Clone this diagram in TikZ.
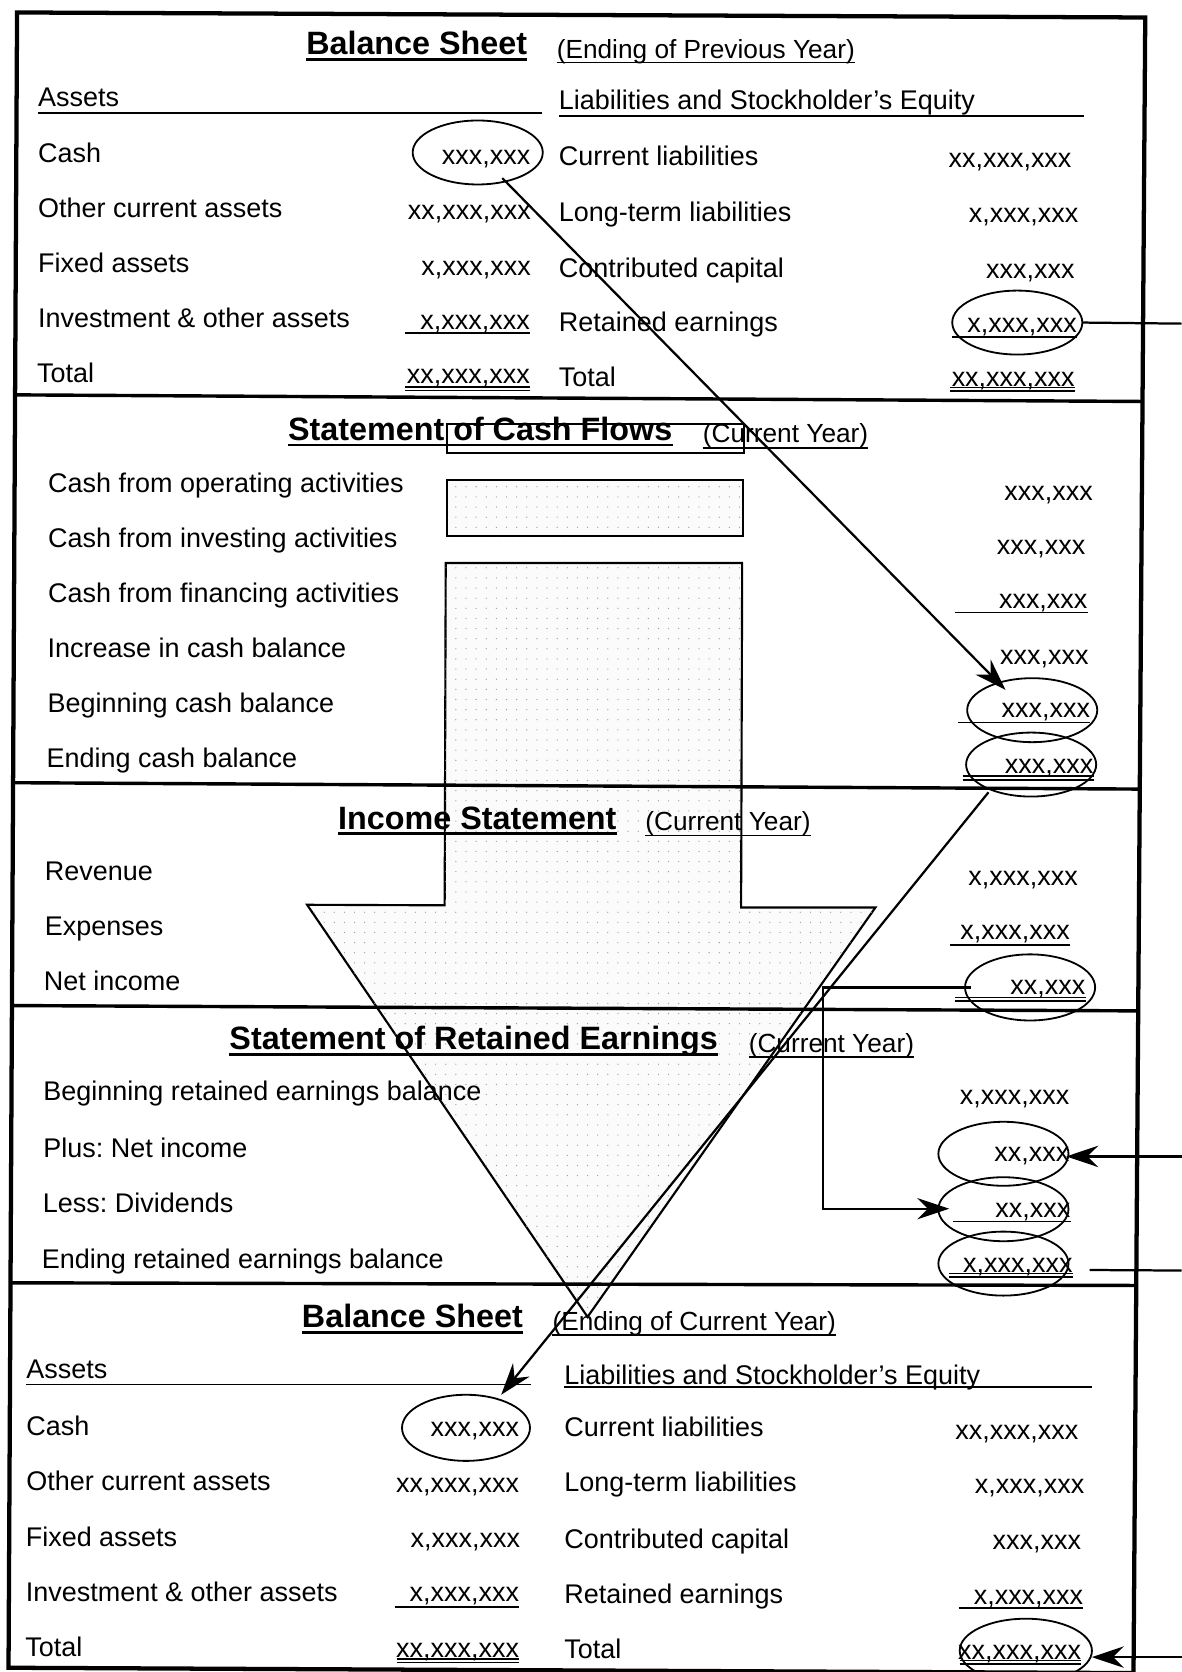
\documentclass[tikz,border=0pt]{standalone}
\usepackage{fontspec}
\setmainfont{Liberation Sans}
\usetikzlibrary{calc,arrows.meta,patterns.meta,shapes.geometric}
\frenchspacing

% underline under a text node: #2 node, #3 x where the rule starts, #4 drop below the baseline
\newcommand\ruleunder[4][uln]{\draw[#1] ($(#3,0 |- #2.base)+(0,#4)$) -- ($(#2.base east)+(0,#4)$);}
% rule from the start of a node to a given x
\newcommand\ruleto[4][uln]{\draw[#1] ($(#2.base west)+(0,#4)$) -- ($(#3,0 |- #2.base)+(0,#4)$);}

\begin{document}
\begin{tikzpicture}[x=1pt,y=-1pt,
  lbl/.style={anchor=base west,inner sep=0pt,font=\fontsize{25.3}{30}\selectfont},
  val/.style={anchor=base east,inner sep=0pt,font=\fontsize{25.3}{30}\selectfont},
  ttl/.style={anchor=base west,inner sep=0pt,font=\fontsize{30.3}{36}\selectfont\bfseries},
  when/.style={anchor=base west,inner sep=0pt,font=\fontsize{24.6}{30}\selectfont},
  ring/.style={ellipse,draw,line width=1.7pt,minimum width=122pt,minimum height=60pt,inner sep=0pt},
  uln/.style={line width=1.6pt},
  tuln/.style={line width=2.4pt},
  frame/.style={line width=4pt,line join=miter},
  divider/.style={line width=3.2pt},
  conn/.style={line width=2.1pt},
  tip/.style={-{Stealth[length=30pt,width=20pt,inset=10pt]}},
  flow/.style={line width=2pt,line join=miter,fill=black!1.5,
    postaction={pattern={Dots[distance=9.5pt,radius=0.6pt]},pattern color=black!40}},
]
\useasboundingbox (0,0) rectangle (1108,1568);
\fill[white] (0,0) rectangle (1108,1568);

% ---------- the big flow arrow behind everything ----------
\draw[line width=2pt] (419,398) rectangle (698,425);
\draw[flow] (419,450) rectangle (697,503);
\draw[flow] (418,528) -- (417,849) -- (288,848.5) -- (551,1235) -- (821,851)
  -- (695,851) -- (696,528) -- cycle;

% ---------- frame and section dividers ----------
\draw[frame] (16,11.7) -- (1074,16.4) -- (1063,1569) -- (8,1564) -- cycle;
\draw[divider] (14.2,370.3) -- (1071.5,376.5);
\draw[divider] (12.3,734) -- (1068.9,740);
\draw[divider] (11.2,943) -- (1067.4,948);
\draw[divider] (9.9,1203) -- (1065.6,1205.5);

% ---------- Balance Sheet, previous year ----------
\node[ttl] (bs1-title) at (287,51.5) {Balance Sheet};
\node[when] (bs1-when) at (522,54.5) {(Ending of Previous Year)};
\ruleunder[tuln]{bs1-title}{287}{4.5}
\ruleunder{bs1-when}{522}{4}
\node[lbl] (bs1-assets) at (35.5,100) {Assets};
\ruleto{bs1-assets}{508.6}{6}
\node[lbl] (bs1-liab) at (524,102.5) {Liabilities and Stockholder’s Equity};
\ruleto{bs1-liab}{1017}{6.2}

\node[lbl] (bs1-l1) at (35.5,152) {Cash};
\node[lbl] (bs1-l2) at (35.5,204) {Other current assets};
\node[lbl] (bs1-l3) at (35.5,256) {Fixed assets};
\node[lbl] (bs1-l4) at (35.5,307.5) {Investment \& other assets};
\node[lbl] (bs1-l5) at (34.5,359) {Total};
\node[val] (bs1-v1) at (497.5,154.5) {xxx,xxx};
\node[val] (bs1-v2) at (498,206) {xx,xxx,xxx};
\node[val] (bs1-v3) at (498,258) {x,xxx,xxx};
\node[val] (bs1-v4) at (497,309) {x,xxx,xxx};
\node[val] (bs1-v5) at (497,360) {xx,xxx,xxx};
\ruleunder{bs1-v4}{380}{3.5}
\ruleunder{bs1-v5}{380}{2.8}
\ruleunder{bs1-v5}{380}{6.3}

\node[lbl] (bs1-r1) at (524,155) {Current liabilities};
\node[lbl] (bs1-r2) at (524,208) {Long-term liabilities};
\node[lbl] (bs1-r3) at (524,260) {Contributed capital};
\node[lbl] (bs1-r4) at (524,311) {Retained earnings};
\node[lbl] (bs1-r5) at (524,362.5) {Total};
\node[val] (bs1-w1) at (1005,157) {xx,xxx,xxx};
\node[val] (bs1-w2) at (1011.5,209) {x,xxx,xxx};
\node[val] (bs1-w3) at (1008,261) {xxx,xxx};
\node[val] (bs1-w4) at (1010,311.5) {x,xxx,xxx};
\node[val] (bs1-w5) at (1008,362.5) {xx,xxx,xxx};
\ruleunder{bs1-w4}{893}{4.5}
\ruleunder{bs1-w5}{891}{0.8}
\ruleunder{bs1-w5}{891}{4.0}

\node[ring] (e-cash1) at (448,143) {};
\node[ring] (e-re1) at (954,302.5) {};

% ---------- Statement of Cash Flows ----------
\node[ttl] (cf-title) at (270,413) {Statement of Cash Flows};
\node[when] (cf-when) at (659,415) {(Current Year)};
\ruleunder[tuln]{cf-title}{270}{4.5}
\ruleunder{cf-when}{659}{5}
\node[lbl] (cf-l1) at (45,462) {Cash from operating activities};
\node[lbl] (cf-l2) at (45,513.5) {Cash from investing activities};
\node[lbl] (cf-l3) at (45,565) {Cash from financing activities};
\node[lbl] (cf-l4) at (44.5,616.5) {Increase in cash balance};
\node[lbl] (cf-l5) at (44.5,668) {Beginning cash balance};
\node[lbl] (cf-l6) at (43.5,719.5) {Ending cash balance};
\node[val] (cf-v1) at (1025,469) {xxx,xxx};
\node[val] (cf-v2) at (1018,520) {xxx,xxx};
\node[val] (cf-v3) at (1020,571) {xxx,xxx};
\node[val] (cf-v4) at (1021,623) {xxx,xxx};
\node[val] (cf-v5) at (1022.5,673) {xxx,xxx};
\node[val] (cf-v6) at (1025.5,725) {xxx,xxx};
\ruleunder{cf-v3}{896}{3.5}
\ruleunder{cf-v5}{898}{4.5}
\ruleunder{cf-v6}{903}{3}
\ruleunder{cf-v6}{903}{6.3}
\node[ring] (e-beg) at (968,666) {};
\node[ring] (e-end) at (967,717) {};

% ---------- Income Statement ----------
\node[ttl] (is-title) at (317,778) {Income Statement};
\node[when] (is-when) at (605,779) {(Current Year)};
\ruleunder[tuln]{is-title}{317}{3.5}
\ruleunder{is-when}{605}{4.5}
\node[lbl] (is-l1) at (42,825.6) {Revenue};
\node[lbl] (is-l2) at (42,877.5) {Expenses};
\node[lbl] (is-l3) at (41,928.5) {Net income};
\node[val] (is-v1) at (1011,830) {x,xxx,xxx};
\node[val] (is-v2) at (1003.5,881) {x,xxx,xxx};
\node[val] (is-v3) at (1018,933) {xx,xxx};
\ruleunder{is-v2}{891}{5}
\ruleunder{is-v3}{896}{2.4}
\ruleunder{is-v3}{896}{5.8}
\node[ring,minimum height=62pt] (e-ni) at (966,926) {};

% ---------- Statement of Retained Earnings ----------
\node[ttl] (re-title) at (215,984) {Statement of Retained Earnings};
\node[when] (re-when) at (702,987) {(Current Year)};
\ruleunder[tuln]{re-title}{215}{5}
\ruleunder{re-when}{702}{4.5}
\node[lbl] (re-l1) at (40.5,1032) {Beginning retained earnings balance};
\node[lbl] (re-l2) at (40.5,1085.5) {Plus: Net income};
\node[lbl] (re-l3) at (40,1137) {Less: Dividends};
\node[lbl] (re-l4) at (39,1190) {Ending retained earnings balance};
\node[val] (re-v1) at (1003,1036) {x,xxx,xxx};
\node[val] (re-v2) at (1003,1089) {xx,xxx};
\node[val] (re-v3) at (1004,1142) {xx,xxx};
\node[val] (re-v4) at (1006,1193) {x,xxx,xxx};
\ruleunder{re-v3}{894}{3.5}
\ruleunder{re-v4}{890}{1.2}
\ruleunder{re-v4}{890}{4.6}
\node[ring] (e-pni) at (941,1082) {};
\node[ring] (e-div) at (941,1134) {};
\node[ring] (e-ere) at (941,1185) {};

% ---------- Balance Sheet, current year ----------
\node[ttl] (bs2-title) at (283,1245) {Balance Sheet};
\node[when] (bs2-when) at (518,1248) {(Ending of Current Year)};
\ruleunder[tuln]{bs2-title}{283}{4.5}
\ruleunder{bs2-when}{518}{4}
\node[lbl] (bs2-assets) at (24.5,1293) {Assets};
\ruleto{bs2-assets}{498}{5.5}
\node[lbl] (bs2-liab) at (529,1298) {Liabilities and Stockholder’s Equity};
\ruleto{bs2-liab}{1024}{2.5}

\node[lbl] (bs2-l1) at (24.5,1346) {Cash};
\node[lbl] (bs2-l2) at (24.5,1398) {Other current assets};
\node[lbl] (bs2-l3) at (24,1450) {Fixed assets};
\node[lbl] (bs2-l4) at (24,1502) {Investment \& other assets};
\node[lbl] (bs2-l5) at (23.5,1553) {Total};
\node[val] (bs2-v1) at (487,1347) {xxx,xxx};
\node[val] (bs2-v2) at (487,1400) {xx,xxx,xxx};
\node[val] (bs2-v3) at (488,1451) {x,xxx,xxx};
\node[val] (bs2-v4) at (487,1502) {x,xxx,xxx};
\node[val] (bs2-v5) at (487,1554) {xx,xxx,xxx};
\ruleunder{bs2-v4}{370}{5}
\ruleunder{bs2-v5}{372}{1.5}
\ruleunder{bs2-v5}{372}{5}

\node[lbl] (bs2-r1) at (529,1347) {Current liabilities};
\node[lbl] (bs2-r2) at (529,1399) {Long-term liabilities};
\node[lbl] (bs2-r3) at (529,1452) {Contributed capital};
\node[lbl] (bs2-r4) at (529,1504) {Retained earnings};
\node[lbl] (bs2-r5) at (529,1555) {Total};
\node[val] (bs2-w1) at (1011.5,1350) {xx,xxx,xxx};
\node[val] (bs2-w2) at (1017,1401) {x,xxx,xxx};
\node[val] (bs2-w3) at (1014,1453) {xxx,xxx};
\node[val] (bs2-w4) at (1016,1505) {x,xxx,xxx};
\node[val] (bs2-w5) at (1014,1556) {xx,xxx,xxx};
\ruleunder{bs2-w4}{899}{3}
\ruleunder{bs2-w5}{900}{1.2}
\ruleunder{bs2-w5}{900}{4.5}

\node[ring,minimum width=120pt,minimum height=62pt] (e-cash2) at (437,1339) {};
\node[ring,minimum width=124pt] (e-tot2) at (962,1548) {};

% ---------- connectors ----------
\coordinate (re-out) at (1108,303.5);
\coordinate (ni-in) at (1108,1084.5);
\coordinate (ere-out) at (1108,1191.5);
\coordinate (tot-in) at (1108,1554);
\coordinate (ni-turn) at (771.5,926);

% cash at the start of the year feeds the beginning cash balance
\draw[conn,tip] ($(e-cash1.center)+(23,24)$) -- ($(e-beg.center)+(-25,-19)$);
% ending cash balance becomes the cash of the new balance sheet
\draw[conn,tip] ($(e-end.center)+(-40,26)$) -- ($(e-cash2.center)+(33,-31)$);
% net income carried into retained earnings
\draw[conn,tip] ($(e-ni.west)+(6,0)$) -- (ni-turn) |- ($(e-div.west)+(11,-0.5)$);
% links leaving and entering at the right
\draw[conn] (e-re1.east) -- (re-out);
\draw[conn,tip] (ni-in) -- ($(e-pni.east)+(-3,2.5)$);
\draw[conn] ($(e-ere.east)+(19,6)$) -- (ere-out);
\draw[conn,tip] (tot-in) -- ($(e-tot2.east)+(-1,6)$);
\end{tikzpicture}
\end{document}
